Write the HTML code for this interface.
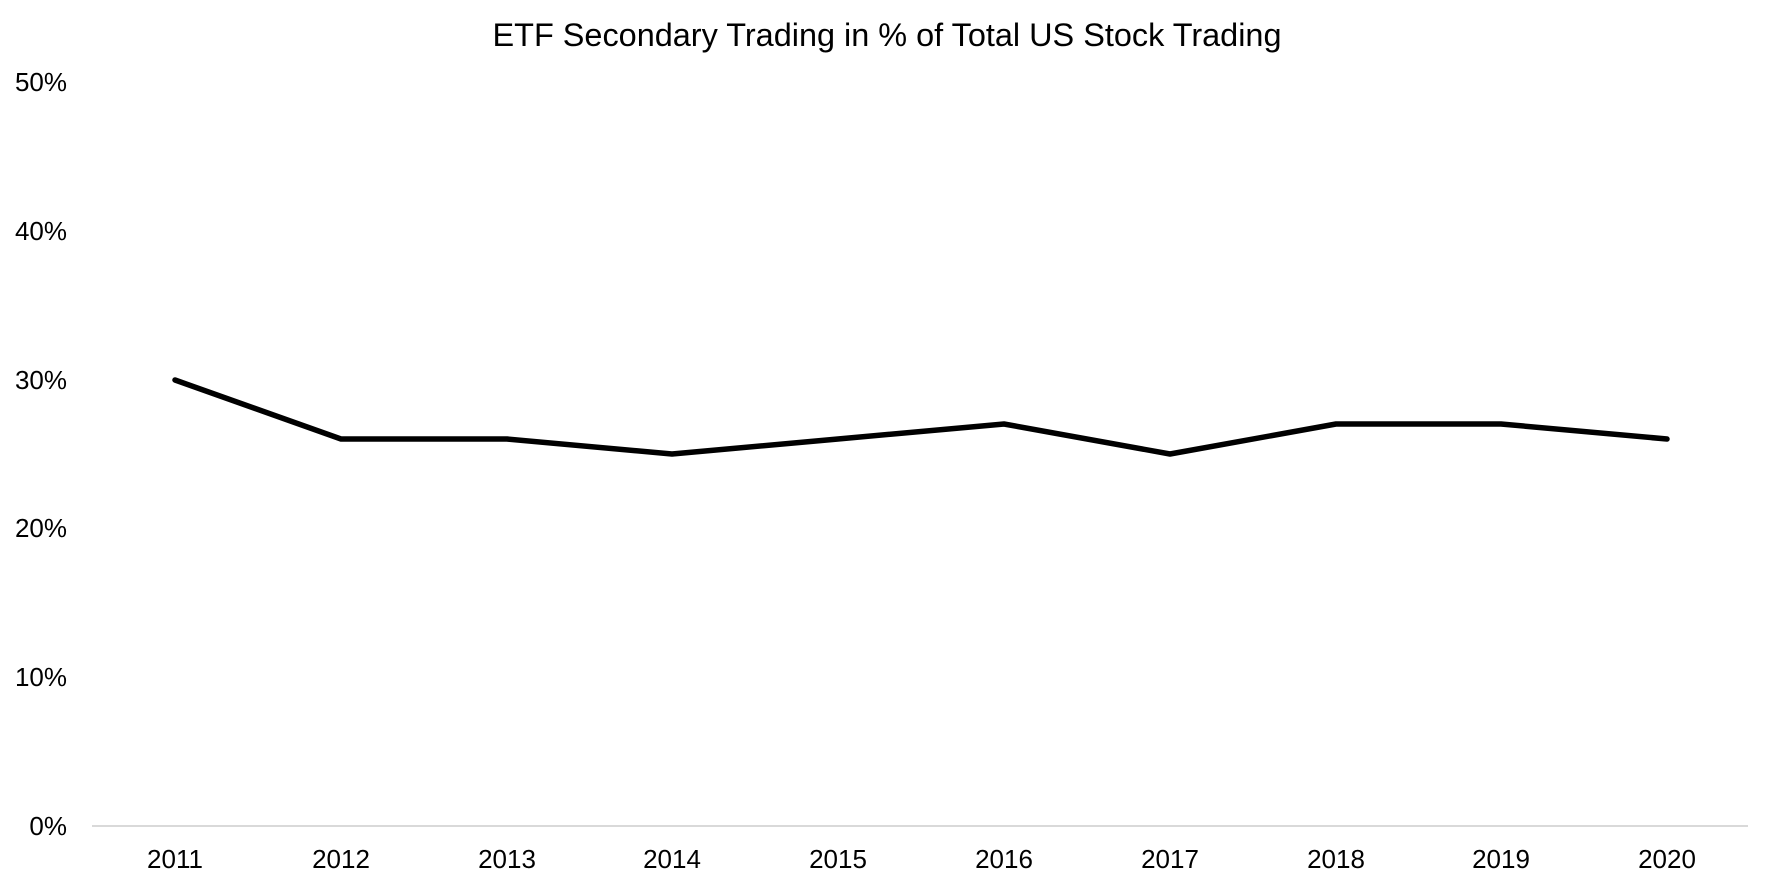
<!DOCTYPE html>
<html><head><meta charset="utf-8"><style>body{margin:0;background:#fff}svg{display:block}</style></head>
<body>
<svg width="1772" height="886" xmlns="http://www.w3.org/2000/svg" font-family="'Liberation Sans', Arial, sans-serif">
<rect width="1772" height="886" fill="#fff"/>
<text x="887" y="46" font-size="32" text-anchor="middle" textLength="789" lengthAdjust="spacingAndGlyphs" fill="#000">ETF Secondary Trading in % of Total US Stock Trading</text>
<g font-size="26" text-anchor="end" fill="#000">
<text x="67" y="91">50%</text>
<text x="67" y="240">40%</text>
<text x="67" y="389">30%</text>
<text x="67" y="537">20%</text>
<text x="67" y="686">10%</text>
<text x="67" y="835">0%</text>
</g>
<line x1="92" y1="826" x2="1748" y2="826" stroke="#d9d9d9" stroke-width="2"/>
<g font-size="26" text-anchor="middle" fill="#000">
<text x="175" y="868">2011</text>
<text x="341" y="868">2012</text>
<text x="507" y="868">2013</text>
<text x="672" y="868">2014</text>
<text x="838" y="868">2015</text>
<text x="1004" y="868">2016</text>
<text x="1170" y="868">2017</text>
<text x="1336" y="868">2018</text>
<text x="1501" y="868">2019</text>
<text x="1667" y="868">2020</text>
</g>
<polyline fill="none" stroke="#000" stroke-width="5.5" stroke-linejoin="round" stroke-linecap="round"
points="175,380 341,439 507,439 672,454 838,439 1004,424 1170,454 1336,424 1501,424 1667,439"/>
</svg>
</body></html>
